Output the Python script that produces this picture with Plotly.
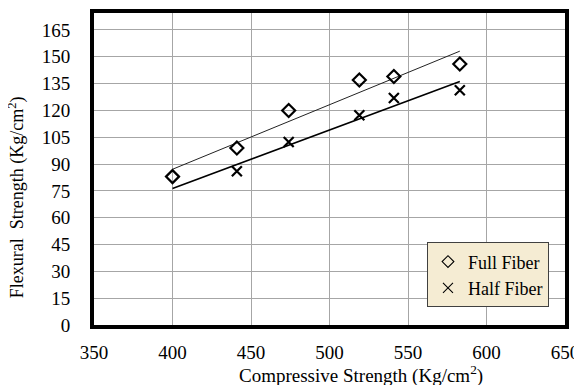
import numpy as np
import plotly.graph_objects as go

full_x = [400, 441, 474, 519, 541, 583]
full_y = [83, 99, 120, 137, 139, 146]
half_x = [441, 474, 519, 541, 583]
half_y = [86, 102.4, 117.3, 127, 131.3]
x_ticks = [350, 400, 450, 500, 550, 600, 650]
y_ticks = list(range(0, 166, 15))

font_family = "Liberation Serif, Times New Roman, serif"

fig = go.Figure()

# trendlines (least-squares fits computed from the data)
line_x = np.array([min(full_x), max(full_x)])
pf = np.polyfit(full_x, full_y, 1)
ph = np.polyfit(half_x, half_y, 1)
fig.add_trace(go.Scatter(x=line_x, y=np.polyval(pf, line_x), mode="lines",
                         line=dict(color="#222222", width=1), showlegend=False, hoverinfo="skip"))
fig.add_trace(go.Scatter(x=line_x, y=np.polyval(ph, line_x), mode="lines",
                         line=dict(color="#000000", width=1.6), showlegend=False, hoverinfo="skip"))

fig.add_trace(go.Scatter(x=full_x, y=full_y, mode="markers", name="Full Fiber", showlegend=False,
                         marker=dict(symbol="diamond-open", size=10, color="black",
                                     line=dict(width=2.2, color="black"))))
fig.add_trace(go.Scatter(x=half_x, y=half_y, mode="markers", name="Half Fiber", showlegend=False,
                         marker=dict(symbol="x-thin-open", size=10, color="black",
                                     line=dict(width=2.2, color="black"))))
# legend entries (thin, small symbols as in the reference legend)
fig.add_trace(go.Scatter(x=[None], y=[None], mode="markers", name="Full Fiber",
                         marker=dict(symbol="diamond-open", size=9, color="black",
                                     line=dict(width=1.1, color="black"))))
fig.add_trace(go.Scatter(x=[None], y=[None], mode="markers", name="Half Fiber",
                         marker=dict(symbol="x-thin-open", size=10, color="black",
                                     line=dict(width=1.1, color="black"))))

fig.update_layout(
    width=582, height=385,
    margin=dict(l=86, r=25, t=5, b=68, autoexpand=False),
    paper_bgcolor="white", plot_bgcolor="white",
    font=dict(family=font_family, size=19, color="black"),
    legend=dict(x=0.966, y=0.265, xanchor="right", yanchor="top",
                bgcolor="#f5ecd3", bordercolor="#404040", borderwidth=1,
                font=dict(family=font_family, size=18, color="black"),
                itemwidth=30, tracegroupgap=0),
    annotations=[
        dict(text="Compressive Strength (Kg/cm<sup>2</sup>)", xref="paper", yref="paper",
             x=(361 - 94) / 471, y=-(374 - 324.7) / 311.7, xanchor="center", yanchor="middle",
             showarrow=False, font=dict(family=font_family, size=19, color="black")),
        dict(text="Flexural  Strength (Kg/cm<sup>2</sup>)", xref="paper", yref="paper",
             x=-(94 - 17) / 471, y=(324.7 - 197) / 311.7, xanchor="center", yanchor="middle",
             textangle=-90, showarrow=False, font=dict(family=font_family, size=18, color="black")),
    ],
)
fig.update_xaxes(range=[350, 650], tickvals=x_ticks, ticktext=[str(v) for v in x_ticks],
                 showgrid=True, gridcolor="#a6a6a6", gridwidth=1,
                 showline=True, linecolor="black", linewidth=4, mirror=True,
                 ticks="outside", ticklen=7, tickcolor="rgba(0,0,0,0)",
                 tickfont=dict(family=font_family, size=19, color="black"),
                 zeroline=False, automargin=False)
fig.update_yaxes(range=[0, 174.5], tickvals=y_ticks, ticktext=[str(v) for v in y_ticks],
                 showgrid=True, gridcolor="#a6a6a6", gridwidth=1,
                 showline=True, linecolor="black", linewidth=4, mirror=True,
                 ticks="outside", ticklen=16, tickcolor="rgba(0,0,0,0)",
                 tickfont=dict(family=font_family, size=19, color="black"),
                 zeroline=False, automargin=False)

fig.write_html("out.html")
